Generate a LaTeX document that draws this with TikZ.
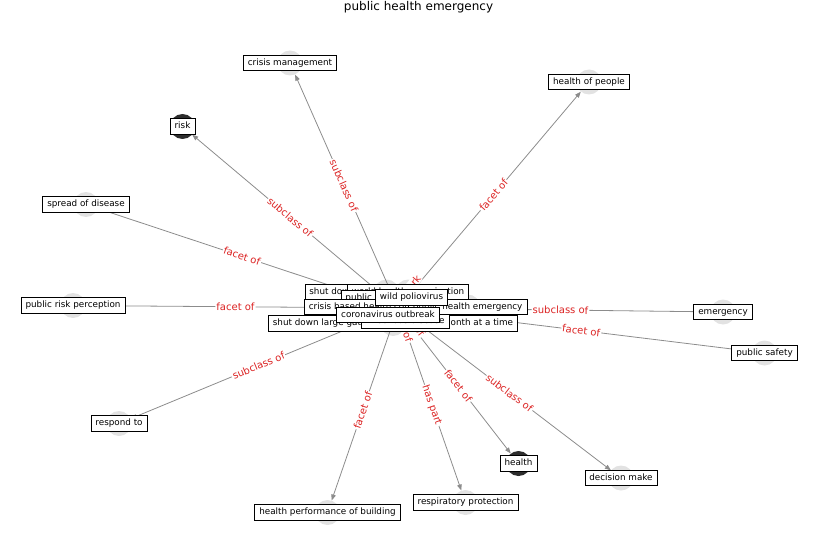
\documentclass[tikz,border=0pt]{standalone}
\usepackage{fontspec}
\setmainfont{DejaVu Sans}
\usetikzlibrary{arrows.meta}
\definecolor{edgegray}{RGB}{140,140,140}
\definecolor{labred}{RGB}{220,35,35}
\definecolor{nodegray}{RGB}{226,226,226}
\definecolor{darknode}{RGB}{45,45,45}
\begin{document}
\begin{tikzpicture}[x=1pt,y=-1pt,
  dot/.style={circle,fill=nodegray,minimum size=25pt,inner sep=0pt},
  darkdot/.style={circle,fill=darknode,minimum size=25pt,inner sep=0pt},
  lbl/.style={draw=black,fill=white,line width=0.7pt,font=\fontsize{8.8}{10}\selectfont,text height=6.8pt,text depth=2pt,inner xsep=4.5pt,inner ysep=3.3pt},
  elbl/.style={text=labred,fill=white,rounded corners=2pt,inner sep=1pt,font=\fontsize{10}{12}\selectfont},
  link/.style={draw=edgegray,line width=0.8pt,-{Triangle[length=6pt,width=4.5pt]}},
]
\useasboundingbox (0,-1) rectangle (837,558);
\node[font=\fontsize{12}{14}\selectfont] (title) at (418.5,6.5) {public health emergency};

% node markers
\node[dot] (c) at (398,307) {};
\node[dot] (d-cm) at (290,62) {};
\node[dot] (d-hop) at (589,81) {};
\node[darkdot] (d-risk) at (182.5,125.5) {};
\node[dot] (d-sod) at (86,203.5) {};
\node[dot] (d-prp) at (73,304.5) {};
\node[dot] (d-rt) at (119,422.5) {};
\node[dot] (d-hpb) at (327.5,511.5) {};
\node[dot] (d-rp) at (465.5,501.5) {};
\node[darkdot] (d-hl) at (518.5,462.5) {};
\node[dot] (d-dm) at (621,477) {};
\node[dot] (d-em) at (723,311) {};
\node[dot] (d-ps) at (764.5,352) {};
\node[dot] (d-shut) at (386.5,291) {};
\node[dot] (d-who) at (408,291) {};
\node[dot] (d-pub) at (374,297) {};
\node[dot] (d-wild) at (411.5,296.5) {};
\node[dot] (d-crisis) at (385.5,306) {};
\node[dot] (d-phe) at (467.7,306) {};
\node[dot] (d-corona) at (388,314) {};
\node[dot] (d-row) at (393,322.5) {};
\node[dot] (d-inf) at (405,320) {};

% edges
\draw[link] (c) -- node[elbl,sloped] {subclass of} (d-cm);
\draw[link] (c) -- node[elbl,sloped] {facet of} (d-hop);
\draw[link] (c) -- node[elbl,sloped] {subclass of} (d-risk);
\draw[link] (c) -- node[elbl,sloped] {facet of} (d-sod);
\draw[link] (c) -- node[elbl,sloped] {facet of} (d-prp);
\draw[link] (c) -- node[elbl,sloped] {subclass of} (d-rt);
\draw[link] (c) -- node[elbl,sloped] {facet of} (d-hpb);
\draw[link] (c) -- node[elbl,sloped] {has part} (d-rp);
\draw[link] (c) -- node[elbl,sloped] {facet of} (d-hl);
\draw[link] (c) -- node[elbl,sloped] {subclass of} (d-dm);
\draw[link] (c) -- node[elbl,sloped] {subclass of} (d-em);
\draw[link] (c) -- node[elbl,sloped] {facet of} (d-ps);

% labels of the short central edges (mostly hidden)
\node[elbl,rotate=-71] (cl1) at (400.5,314.5) {subclass of};
\node[elbl,rotate=-52] (cl2) at (411,319) {facet of};
\node[elbl,rotate=50] (cl3) at (399,299) {field of work};

% outer label boxes
\node[lbl] (cm) at (290,62) {crisis management};
\node[lbl] (hop) at (589,81) {health of people};
\node[lbl] (risk) at (182.5,125.5) {risk};
\node[lbl] (sod) at (86,203.5) {spread of disease};
\node[lbl] (prp) at (73,304.5) {public risk perception};
\node[lbl] (rt) at (119,422.5) {respond to};
\node[lbl] (hpb) at (327.5,511.5) {health performance of building};
\node[lbl] (rp) at (465.5,501.5) {respiratory protection};
\node[lbl] (hl) at (518.5,462.5) {health};
\node[lbl] (dm) at (621,477) {decision make};
\node[lbl] (em) at (723,311) {emergency};
\node[lbl] (ps) at (764.5,352) {public safety};

% central cluster of label boxes (overlapping)
\node[lbl] (shut) at (386.5,291) {shut down schools and universities};
\node[lbl] (row) at (393,322.5) {shut down large gatherings for over a month at a time};
\node[lbl] (inf) at (405,320) {infectious disease};
\node[lbl] (who) at (408,291) {world health organization};
\node[lbl] (pub) at (374,297) {public health};
\node[lbl] (crisis) at (385.5,306) {crisis based health communication};
\node[lbl] (phe) at (467.7,306) {public health emergency};
\node[lbl] (wild) at (411.5,296.5) {wild poliovirus};
\node[lbl] (corona) at (388,314) {coronavirus outbreak};
\end{tikzpicture}
\end{document}
